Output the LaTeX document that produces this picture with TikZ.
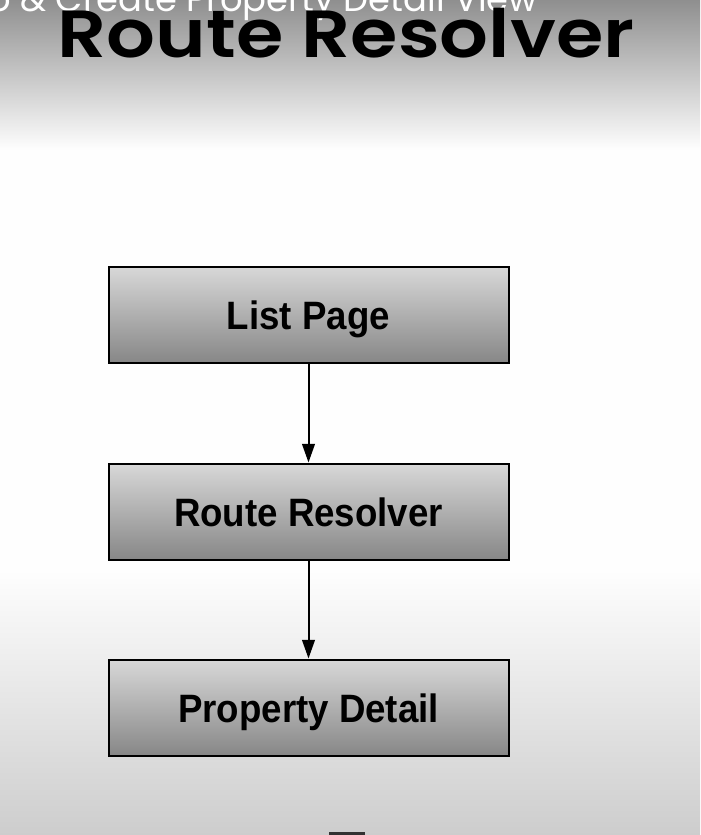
\documentclass[tikz,border=0pt]{standalone}
\usepackage{fontspec}
\setmainfont{Liberation Sans}
\newfontfamily\titlefont{Poppins}[BoldFont={* SemiBold}]
\usetikzlibrary{arrows.meta}
\definecolor{bgtop}{RGB}{143,143,143}
\definecolor{bgmid}{RGB}{254,254,254}
\definecolor{bgbot}{RGB}{205,205,205}
\definecolor{boxtop}{RGB}{216,216,216}
\definecolor{boxbot}{RGB}{135,135,135}
\definecolor{bardark}{RGB}{50,50,50}
\newcommand{\boxtxt}[1]{\scalebox{1}[1.08]{#1}}
\tikzset{
  flowbox/.style={draw=black, line width=1.5pt, minimum width=300pt, minimum height=72pt,
    top color=boxtop, bottom color=boxbot, inner sep=0pt, text height=23pt, text depth=0pt,
    font=\bfseries\fontsize{27.5pt}{30pt}\selectfont, text=black},
  flowarrow/.style={draw=black, line width=1.5pt, -{Triangle[width=9.5pt,length=14pt]}}
}
\begin{document}
\begin{tikzpicture}[x=0.75pt,y=0.75pt]
\useasboundingbox (0,0) rectangle (700,-835);
% background
\shade[top color=bgtop, bottom color=bgmid] (0,0) rectangle (700,-150);
\fill[bgmid] (0,-150) rectangle (700,-570);
\shade[top color=bgmid, bottom color=bgbot] (0,-570) rectangle (700,-835);
% header texts
\node[anchor=base east, text=white, inner sep=0pt, font=\titlefont\fontsize{26.5pt}{28pt}\selectfont] (sub) at (538,-12) {o \& Create Property Detail View};
\node[anchor=base, inner sep=0pt, font=\titlefont\bfseries\fontsize{50pt}{52pt}\selectfont] (title) at (346,-57) {\scalebox{1.15}[1]{Route Resolver}};
% boxes
\node[flowbox] (list) at (308.5,-314.5) {\boxtxt{List Page}};
\node[flowbox] (resolver) at (308.5,-511.5) {\boxtxt{Route Resolver}};
\node[flowbox] (detail) at (308.5,-707.5) {\boxtxt{Property Detail}};
\draw[flowarrow] (list) -- (resolver);
\draw[flowarrow] (resolver) -- (detail);
% bottom bar
\fill[bardark] (329,-832) rectangle (365,-835);
\end{tikzpicture}
\end{document}
